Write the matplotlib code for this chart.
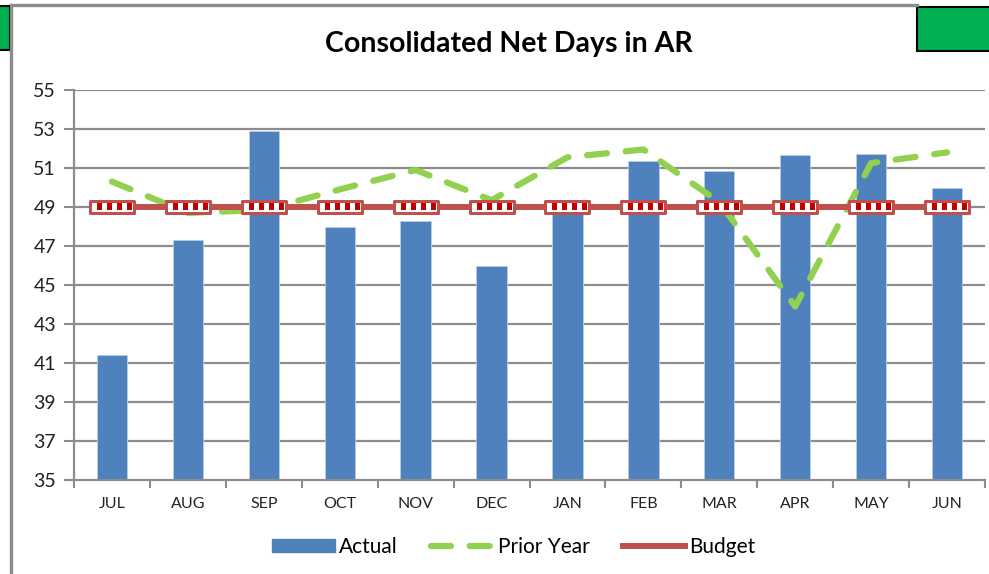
import matplotlib.pyplot as plt
import numpy as np
from matplotlib.path import Path
from matplotlib.patches import Rectangle
from matplotlib.lines import Line2D

months = ['JUL', 'AUG', 'SEP', 'OCT', 'NOV', 'DEC', 'JAN', 'FEB', 'MAR', 'APR', 'MAY', 'JUN']
actual = [41.4, 47.3, 52.9, 48.0, 48.3, 46.0, 49.0, 51.35, 50.85, 51.65, 51.7, 50.0]
prior_year = [50.3, 48.7, 48.85, 49.9, 50.9, 49.35, 51.55, 51.95, 49.25, 43.9, 51.25, 51.8]
budget = [49.0] * 12

plt.rcParams['font.family'] = ['Lato', 'DejaVu Sans']

fig = plt.figure(figsize=(9.89, 5.74), dpi=100)
ax = fig.add_axes([74 / 989, 94 / 574, 911 / 989, 390 / 574])

x = np.arange(len(months))

# gridlines
for v in np.arange(37, 56, 2):
    ax.axhline(v, color='#8c8c8c', lw=1.6, zorder=0)

ax.bar(x, actual, width=0.4, bottom=0, color='#4F81BD', edgecolor='#b9cde5', lw=0.6, zorder=2)

green_dash = (0, (3.2, 3.0))
ax.plot(x, prior_year, color='#92D050', lw=4.5, linestyle=green_dash,
        dash_capstyle='round', zorder=3)

ax.plot(x, budget, color='#C0504D', lw=4.3, zorder=4)

# budget markers: wide rectangle with checkered inside
box = Path([(-1, -0.27), (1, -0.27), (1, 0.27), (-1, 0.27), (-1, -0.27)],
           [Path.MOVETO, Path.LINETO, Path.LINETO, Path.LINETO, Path.CLOSEPOLY])
ax.plot(x, budget, linestyle='none', marker=box, markersize=32,
        markerfacecolor='white', markeredgecolor='#C0504D', markeredgewidth=2.2, zorder=5)
verts, codes = [], []
cells = 8
w = 1.8 / cells
for i in range(1, cells, 2):
    x0 = -0.9 + i * w
    verts += [(x0, -0.14), (x0 + w, -0.14), (x0 + w, 0.2), (x0, 0.2), (x0, -0.14)]
    codes += [Path.MOVETO, Path.LINETO, Path.LINETO, Path.LINETO, Path.CLOSEPOLY]
verts += [(-1, -0.27), (1, -0.27), (1, 0.27), (-1, 0.27), (-1, -0.27)]
codes += [Path.MOVETO, Path.MOVETO, Path.MOVETO, Path.MOVETO, Path.MOVETO]
checks = Path(verts, codes)
ax.plot(x, budget, linestyle='none', marker=checks, markersize=32,
        markerfacecolor='#C00000', markeredgewidth=0, zorder=6)

ax.set_xlim(-0.5, len(months) - 0.5)
ax.set_ylim(35, 55)
ax.set_yticks(np.arange(35, 56, 2))
ax.set_xticks(x)
ax.set_xticklabels(months, fontsize=11.5, color='#222222')
ax.set_xticks(np.arange(-0.5, len(months)), minor=True)
ax.tick_params(axis='x', which='major', length=0, pad=12)
ax.tick_params(axis='x', which='minor', length=6, width=1.5, color='#8c8c8c')
ax.tick_params(axis='y', length=7, width=1.5, color='#8c8c8c', labelsize=14, pad=6,
               labelcolor='#222222')
for s in ['top', 'right']:
    ax.spines[s].set_visible(False)
for s in ['left', 'bottom']:
    ax.spines[s].set_color('#8c8c8c')
    ax.spines[s].set_linewidth(1.6)

fig.text(509 / 989, 1 - 44 / 574, 'Consolidated Net Days in AR', ha='center', va='center',
         fontsize=20.5, fontweight='bold', color='black')

handles = [
    Rectangle((0, 0), 1, 1, color='#4F81BD'),
    Line2D([], [], color='#92D050', lw=4.5, linestyle=green_dash, dash_capstyle='round'),
    Line2D([], [], color='#C0504D', lw=4.3),
]
leg = fig.legend(handles, ['Actual', 'Prior Year', 'Budget'], loc='center',
                 bbox_to_anchor=(514 / 989, 1 - 547 / 574), ncol=3, frameon=False,
                 fontsize=15, handlelength=3.0, handleheight=0.6, columnspacing=1.6,
                 handletextpad=0.2)

# sheet frame bits
fig.add_artist(Line2D([11 / 989, 11 / 989], [0, 1 - 5 / 574], transform=fig.transFigure,
                      color='#8c8c8c', lw=2.4))
fig.add_artist(Line2D([11 / 989, 917 / 989], [1 - 5 / 574, 1 - 5 / 574],
                      transform=fig.transFigure, color='#8c8c8c', lw=2.4))
fig.add_artist(Rectangle((-0.01, 1 - 50 / 574), 20 / 989, 44 / 574, transform=fig.transFigure,
                         facecolor='#00B050', edgecolor='black', lw=1.5))
fig.add_artist(Rectangle((917 / 989, 1 - 51 / 574), 80 / 989, 44 / 574,
                         transform=fig.transFigure, facecolor='#00B050', edgecolor='black',
                         lw=1.5))

fig.savefig('out.png', dpi=100)
